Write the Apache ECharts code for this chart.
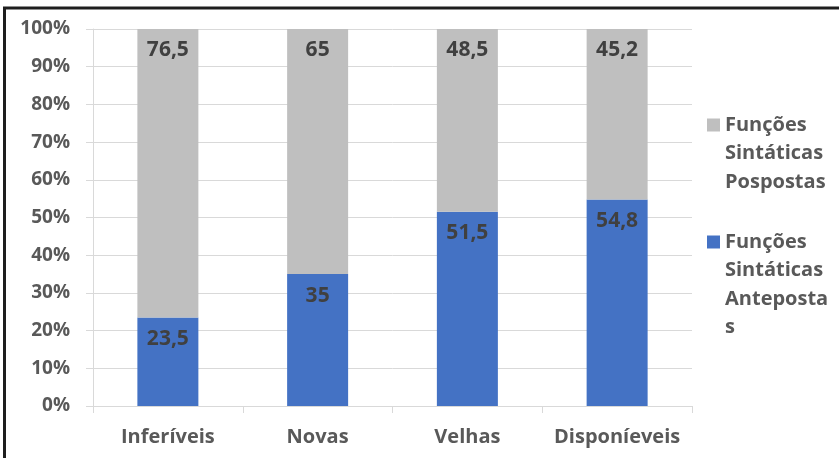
<!DOCTYPE html>
<html>
<head>
<meta charset="utf-8">
<script src="https://cdn.jsdelivr.net/npm/echarts@6/dist/echarts.min.js"></script>
<style>
  html, body { margin: 0; padding: 0; background: #ffffff; }
  #chart { width: 839px; height: 458px; }
</style>
</head>
<body>
<div id="chart"></div>
<script>
// Categories and the two stacked shares (percent of each category)
const categories = ['Inferíveis', 'Novas', 'Velhas', 'Disponíeveis'];
const antepostas = [23.5, 35, 51.5, 54.8];
const pospostas = [76.5, 65, 48.5, 45.2];
const seriesNames = ['Funções Sintáticas Pospostas', 'Funções Sintáticas Antepostas'];
const legendLines = [
  ['Funções', 'Sintáticas', 'Pospostas'],
  ['Funções', 'Sintáticas', 'Anteposta', 's']
];

const FONT = '"Open Sans", "DejaVu Sans", sans-serif';
const AXIS_TEXT = '#595959';
const LABEL_TEXT = '#404040';
const GRID_LINE = '#d9d9d9';
const LINE_H = 28.5;

const fmt = v => String(v).replace('.', ',');

const barLabel = {
  show: true,
  position: 'insideTop',
  distance: 11,
  color: LABEL_TEXT,
  fontFamily: FONT,
  fontWeight: 'bold',
  fontSize: 21,
  lineHeight: 21,
  formatter: p => fmt(p.value)
};

// Each legend entry keeps its first text line level with the swatch:
// blank lines above balance the wrapped lines below, so the block's
// middle (where the swatch sits) is the first line.
function legendFor(idx, firstLineY) {
  const lines = legendLines[idx];
  const blanks = lines.length - 1;
  const text = '\u00a0\n'.repeat(blanks) + lines.join('\n');
  const top = firstLineY - (blanks + 0.5) * LINE_H;
  return {
    data: [seriesNames[idx]],
    left: 707,
    top: top,
    padding: 0,
    orient: 'vertical',
    icon: 'rect',
    itemWidth: 13,
    itemHeight: 13,
    itemGap: 0,
    selectedMode: false,
    formatter: () => text,
    textStyle: {
      color: AXIS_TEXT,
      fontFamily: FONT,
      fontWeight: 'bold',
      fontSize: 20,
      lineHeight: LINE_H
    }
  };
}

const chart = echarts.init(document.getElementById('chart'), null, { renderer: 'canvas' });

chart.setOption({
  backgroundColor: '#ffffff',
  animation: false,
  textStyle: { fontFamily: FONT },
  graphic: [{
    type: 'rect',
    shape: { x: 4.5, y: 8, width: 900, height: 600 },
    style: { fill: 'none', stroke: '#1e1e1e', lineWidth: 3 },
    silent: true
  }],
  grid: { left: 93, right: 147, top: 29, bottom: 52 },
  legend: [
    legendFor(0, 125),
    legendFor(1, 242)
  ],
  xAxis: {
    type: 'category',
    data: categories,
    boundaryGap: true,
    axisLine: { show: true, lineStyle: { color: GRID_LINE, width: 1 } },
    axisTick: { show: true, length: 7, lineStyle: { color: GRID_LINE } },
    axisLabel: {
      interval: 0,
      color: AXIS_TEXT,
      fontFamily: FONT,
      fontWeight: 'bold',
      fontSize: 20,
      lineHeight: 20,
      margin: 21
    }
  },
  yAxis: {
    type: 'value',
    min: 0,
    max: 100,
    interval: 10,
    axisLine: { show: true, lineStyle: { color: GRID_LINE, width: 1 } },
    axisTick: { show: true, length: 7, lineStyle: { color: GRID_LINE } },
    splitLine: { show: true, lineStyle: { color: GRID_LINE, width: 1 } },
    axisLabel: {
      color: AXIS_TEXT,
      fontFamily: FONT,
      fontWeight: 'bold',
      fontSize: 19,
      margin: 23,
      formatter: '{value}%'
    }
  },
  series: [
    {
      name: seriesNames[1],
      type: 'bar',
      stack: 'total',
      barWidth: 61,
      data: antepostas,
      itemStyle: { color: '#4472c4' },
      label: barLabel
    },
    {
      name: seriesNames[0],
      type: 'bar',
      stack: 'total',
      barWidth: 61,
      data: pospostas,
      itemStyle: { color: '#bfbfbf' },
      label: barLabel
    }
  ]
});
</script>
</body>
</html>
